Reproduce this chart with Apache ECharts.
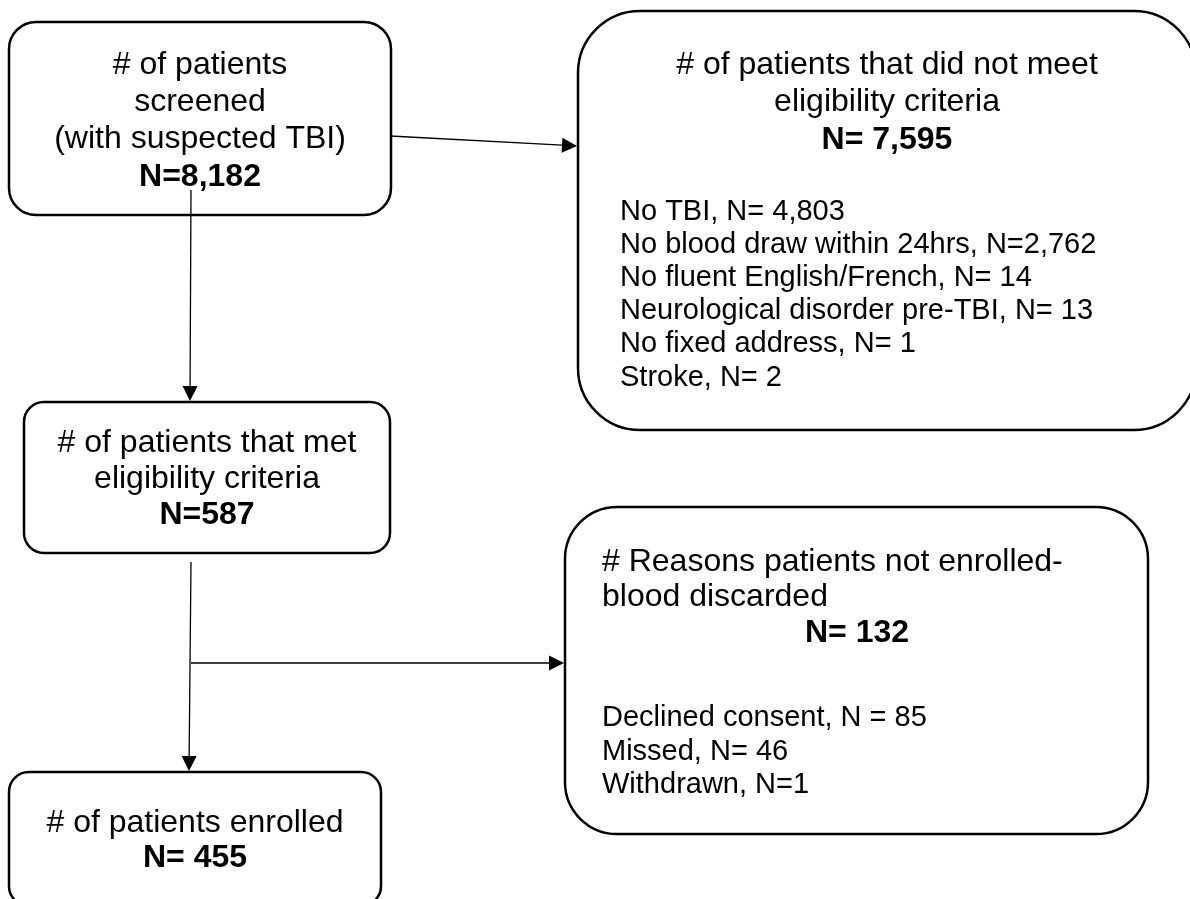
<!DOCTYPE html>
<html>
<head>
<meta charset="utf-8">
<script src="https://cdn.jsdelivr.net/npm/echarts@6/dist/echarts.min.js"></script>
<style>
  html, body { margin: 0; padding: 0; background: #fff; }
  #chart { width: 1190px; height: 899px; }
</style>
</head>
<body>
<div id="chart"></div>
<script>
// --- flow data ---
const stageTitles = [
  ['# of patients', 'screened', '(with suspected TBI)'],
  ['# of patients that met', 'eligibility criteria'],
  ['# of patients enrolled']
]
const stageCounts = [8182, 587, 455]
const stagePrefix = ['N=', 'N=', 'N= ']

const ineligibleTitle = ['# of patients that did not meet', 'eligibility criteria']
const ineligibleTotal = 7595
const ineligibleReasons = ['No TBI', 'No blood draw within 24hrs', 'No fluent English/French',
  'Neurological disorder pre-TBI', 'No fixed address', 'Stroke']
const ineligibleCounts = [4803, 2762, 14, 13, 1, 2]
const ineligiblePrefix = ['N= ', 'N=', 'N= ', 'N= ', 'N= ', 'N= ']

const notEnrolledTitle = ['# Reasons patients not enrolled-', 'blood discarded']
const notEnrolledTotal = 132
const notEnrolledReasons = ['Declined consent', 'Missed', 'Withdrawn']
const notEnrolledCounts = [85, 46, 1]
const notEnrolledPrefix = ['N = ', 'N= ', 'N=']

// --- layout (page units, y down) ---
// x0, y0, x1, y1, corner radius
const boxes = [
  [9, 22, 391, 215, 27],     // screened
  [578, 11, 1196, 430, 62],  // did not meet criteria
  [24, 402, 390, 553, 20],   // met criteria
  [9, 772, 381, 906, 20],    // enrolled
  [565, 507, 1148, 834, 52]  // not enrolled
]
// x1, y1, x2, y2 (arrow head at the second point)
const arrows = [
  [390, 136, 577, 146],
  [191, 190, 190, 401],
  [191, 562, 189, 771],
  [191, 663, 564, 663]
]

const FONT = '"Liberation Sans", Arial, sans-serif'
const fmt = n => n.toLocaleString('en-US')

// text blocks for each box
function block(lines, x, y0, gap, align, size, bold) {
  return lines.map((t, i) => ({ t, x, y: y0 + i * gap, align, size, bold }))
}
const boxTexts = [
  [
    ...block(stageTitles[0], 200, 65, 37.3, 'center', 32),
    ...block([stagePrefix[0] + fmt(stageCounts[0])], 200, 177, 0, 'center', 32, true)
  ],
  [
    ...block(ineligibleTitle, 887, 65, 37.5, 'center', 32),
    ...block(['N= ' + fmt(ineligibleTotal)], 887, 140, 0, 'center', 32, true),
    ...block(ineligibleReasons.map((r, i) => r + ', ' + ineligiblePrefix[i] + fmt(ineligibleCounts[i])),
      620, 212, 33.1, 'left', 29)
  ],
  [
    ...block(stageTitles[1], 207, 443, 36, 'center', 32),
    ...block([stagePrefix[1] + fmt(stageCounts[1])], 207, 515, 0, 'center', 32, true)
  ],
  [
    ...block(stageTitles[2], 195, 823, 35, 'center', 32),
    ...block([stagePrefix[2] + fmt(stageCounts[2])], 195, 858, 0, 'center', 32, true)
  ],
  [
    ...block(notEnrolledTitle, 602, 562, 35.5, 'left', 32),
    ...block(['N= ' + fmt(notEnrolledTotal)], 857, 633, 0, 'center', 32, true),
    ...block(notEnrolledReasons.map((r, i) => r + ', ' + notEnrolledPrefix[i] + fmt(notEnrolledCounts[i])),
      602, 718, 33.5, 'left', 29)
  ]
]

const chart = echarts.init(document.getElementById('chart'))

chart.setOption({
  animation: false,
  grid: { left: 0, right: 0, top: 0, bottom: 0 },
  xAxis: { type: 'value', min: 0, max: 1190, show: false },
  yAxis: { type: 'value', min: 0, max: 899, inverse: true, show: false },
  series: [
    {
      type: 'custom',
      coordinateSystem: 'cartesian2d',
      clip: false,
      z: 2,
      data: boxes.map(b => [b[0], b[1]]),
      renderItem: (params, api) => {
        const b = boxes[params.dataIndex]
        const p0 = api.coord([b[0], b[1]])
        const p1 = api.coord([b[2], b[3]])
        const children = [{
          type: 'rect',
          shape: { x: p0[0], y: p0[1], width: p1[0] - p0[0], height: p1[1] - p0[1], r: b[4] },
          style: { fill: '#fff', stroke: '#000', lineWidth: 2.5 }
        }]
        boxTexts[params.dataIndex].forEach(tx => {
          const p = api.coord([tx.x, tx.y])
          children.push({
            type: 'text',
            x: p[0],
            y: p[1],
            style: {
              text: tx.t,
              fill: '#000',
              font: (tx.bold ? 'bold ' : '') + tx.size + 'px ' + FONT,
              textAlign: tx.align,
              textVerticalAlign: 'middle'
            }
          })
        })
        return { type: 'group', children }
      }
    },
    {
      type: 'custom',
      coordinateSystem: 'cartesian2d',
      clip: false,
      z: 3,
      data: arrows.map(a => [a[0], a[1]]),
      renderItem: (params, api) => {
        const a = arrows[params.dataIndex]
        const s = api.coord([a[0], a[1]])
        const e = api.coord([a[2], a[3]])
        const dx = e[0] - s[0], dy = e[1] - s[1]
        const len = Math.sqrt(dx * dx + dy * dy)
        const ux = dx / len, uy = dy / len
        const headLen = 15, headHalf = 7.5
        const bx = e[0] - ux * headLen, by = e[1] - uy * headLen
        return {
          type: 'group',
          children: [
            {
              type: 'line',
              shape: { x1: s[0], y1: s[1], x2: bx, y2: by },
              style: { stroke: '#000', lineWidth: 1.3 }
            },
            {
              type: 'polygon',
              shape: { points: [[e[0], e[1]], [bx - uy * headHalf, by + ux * headHalf], [bx + uy * headHalf, by - ux * headHalf]] },
              style: { fill: '#000' }
            }
          ]
        }
      }
    }
  ]
})
</script>
</body>
</html>
